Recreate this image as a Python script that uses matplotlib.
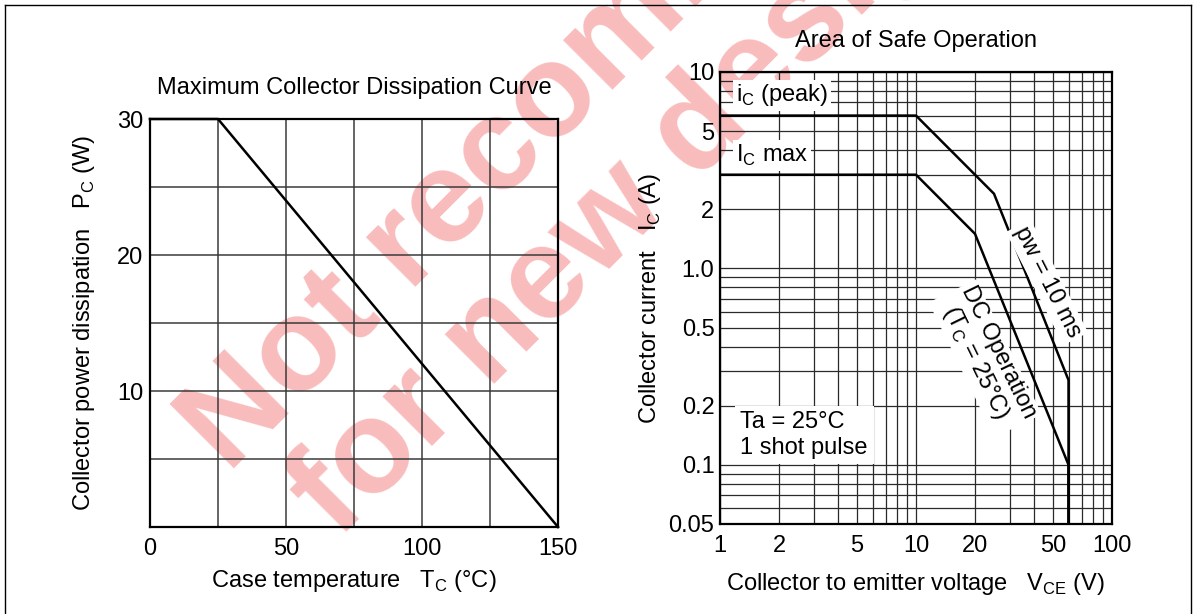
# coding: utf-8

"""
Power transistor: maximum collector dissipation and area of safe operation
"""

import matplotlib
matplotlib.use("Agg")
import matplotlib.pyplot as plt
from matplotlib.lines import Line2D
from matplotlib.ticker import LogLocator, NullFormatter, FixedLocator
import numpy as np

plt.rcParams['font.family'] = ['Liberation Sans', 'DejaVu Sans']
plt.rcParams['mathtext.fontset'] = 'custom'
plt.rcParams['mathtext.rm'] = 'Liberation Sans'

# ---- data
tc = [0, 25, 150]          # case temperature (°C)
pc = [30, 30, 0]           # collector dissipation (W)

vce_peak = [1, 10, 25, 60, 60]          # pw = 10 ms
ic_peak = [6, 6, 2.4, 0.27, 0.05]
vce_dc = [1, 10, 20, 60, 60]            # DC operation
ic_dc = [3, 3, 1.5, 0.1, 0.05]

left_xticks = [0, 25, 50, 75, 100, 125, 150]
left_xlabels = ['0', '', '50', '', '100', '', '150']
left_yticks = [5, 10, 15, 20, 25, 30]
left_ylabels = ['', '10', '', '20', '', '30']

right_xticks = [1, 2, 5, 10, 20, 50, 100]
right_xlabels = ['1', '2', '5', '10', '20', '50', '100']
right_yticks = [0.05, 0.1, 0.2, 0.5, 1.0, 2, 5, 10]
right_ylabels = ['0.05', '0.1', '0.2', '0.5', '1.0', '2', '5', '10']

W, H = 1197, 614
FS = 17


def main():
	fig = plt.figure(figsize=(W / 100, H / 100), dpi=100)
	fig.patch.set_facecolor('white')

	# watermark behind everything
	wm = dict(fontsize=95, fontweight='bold', color='#f9bcbc', rotation=45,
			  rotation_mode='anchor', ha='left', va='baseline', zorder=-5)
	fig.text(228 / W, 1 - 474 / H, "Not recommended", **wm)
	fig.text(338 / W, 1 - 540 / H, "for new design", **wm)

	# frame around the sheet
	for xs, ys in [([5, 5], [5, 700]), ([5, 1191], [5, 5]), ([1191, 1191], [5, 700])]:
		fig.add_artist(Line2D([x / W for x in xs], [1 - y / H for y in ys],
							  color='black', lw=1.0, zorder=10))

	# ---- Left: maximum collector dissipation
	ax1 = fig.add_axes([150 / W, 1 - 527 / H, 408 / W, 408 / H])
	ax1.set_facecolor('none')
	ax1.plot(tc, pc, color='black', lw=1.8, zorder=3, clip_on=False)
	ax1.set_xlim(0, 150)
	ax1.set_ylim(0, 30)
	ax1.set_xticks(left_xticks)
	ax1.set_xticklabels(left_xlabels)
	ax1.set_yticks(left_yticks)
	ax1.set_yticklabels(left_ylabels)
	ax1.grid(True, color='#3a3a3a', lw=1.1)
	ax1.tick_params(length=0, labelsize=FS, pad=8)
	ax1.tick_params(axis='y', pad=5)
	for s in ax1.spines.values():
		s.set_linewidth(1.6)
	ax1.set_title("Maximum Collector Dissipation Curve", fontsize=FS, pad=18)
	ax1.set_xlabel("Case temperature   T$_\\mathregular{C}$ (°C)", fontsize=FS, labelpad=6)
	ax1.set_ylabel("Collector power dissipation   P$_\\mathregular{C}$ (W)", fontsize=FS, labelpad=14)

	# ---- Right: area of safe operation
	ax2 = fig.add_axes([720 / W, 1 - 524 / H, 392 / W, 452 / H])
	ax2.set_facecolor('none')
	ax2.set_xscale('log')
	ax2.set_yscale('log')
	ax2.plot(vce_peak, ic_peak, color='black', lw=1.8, zorder=3)
	ax2.plot(vce_dc, ic_dc, color='black', lw=1.8, zorder=3)
	ax2.set_xlim(1, 100)
	ax2.set_ylim(0.05, 10)
	ax2.xaxis.set_major_locator(FixedLocator(right_xticks))
	ax2.set_xticklabels(right_xlabels)
	ax2.yaxis.set_major_locator(FixedLocator(right_yticks))
	ax2.set_yticklabels(right_ylabels)
	ax2.xaxis.set_minor_locator(LogLocator(base=10, subs=np.arange(1, 10)))
	ax2.yaxis.set_minor_locator(LogLocator(base=10, subs=np.arange(1, 10)))
	ax2.xaxis.set_minor_formatter(NullFormatter())
	ax2.yaxis.set_minor_formatter(NullFormatter())
	ax2.grid(True, which='both', color='#2a2a2a', lw=0.9)
	ax2.tick_params(which='both', length=0, labelsize=FS)
	ax2.tick_params(axis='x', pad=8)
	ax2.tick_params(axis='y', pad=4)
	for s in ax2.spines.values():
		s.set_linewidth(1.6)
	ax2.set_title("Area of Safe Operation", fontsize=FS, pad=18)
	ax2.set_xlabel("Collector to emitter voltage   V$_\\mathregular{CE}$ (V)", fontsize=FS, labelpad=10)
	ax2.set_ylabel("Collector current   I$_\\mathregular{C}$ (A)", fontsize=FS, labelpad=4)

	box = dict(facecolor='white', edgecolor='none', pad=2)
	ax2.text(1.2, 7.6, "i$_\\mathregular{C}$ (peak)", fontsize=FS, va='center', ha='left', bbox=box, zorder=4)
	ax2.text(1.2, 3.75, "I$_\\mathregular{C}$ max", fontsize=FS, va='center', ha='left', bbox=box, zorder=4)
	ax2.text(1.27, 0.142, "Ta = 25°C\n1 shot pulse", fontsize=FS, va='center', ha='left',
			 linespacing=1.2, bbox=dict(facecolor='white', edgecolor='none', pad=4), zorder=4)
	ax2.text(46.6, 0.85, "pw = 10 ms", fontsize=FS, va='center', ha='center', rotation=-63,
			 rotation_mode='anchor', bbox=box, zorder=4)
	ax2.text(22.8, 0.35, "DC Operation\n(T$_\\mathregular{C}$ = 25°C)", fontsize=FS, va='center',
			 ha='center', multialignment='center', rotation=-64, rotation_mode='anchor',
			 linespacing=1.05, bbox=box, zorder=4)

	fig.savefig("out.png", dpi=100, facecolor='white')


if __name__ == "__main__":
	main()
